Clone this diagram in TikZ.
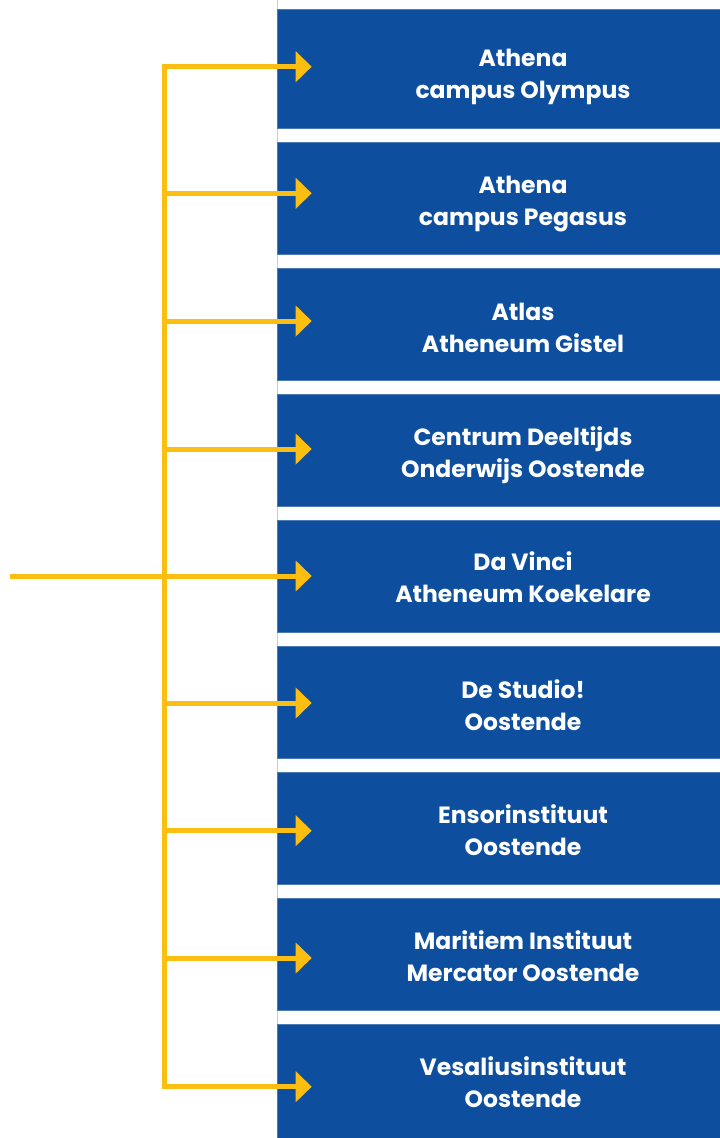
\documentclass[tikz,border=0pt]{standalone}
\usepackage{fontspec}
\setmainfont{Poppins}
\usetikzlibrary{arrows.meta,calc}
\definecolor{schoolblue}{RGB}{13,79,158}
\definecolor{feedyellow}{RGB}{253,190,18}
\definecolor{edgegray}{RGB}{196,208,226}
\tikzset{
  school/.style={fill=schoolblue, draw=schoolblue!75!white, line width=0.6pt,
    minimum width=492pt, minimum height=112pt, inner sep=0pt},
  schooltext/.style={text=white, align=center, inner sep=0pt,
    font=\fontsize{23.5}{32}\selectfont\bfseries},
  feed/.style={draw=feedyellow, line width=5pt, -{Triangle[length=16pt,width=30pt]}},
  trunk/.style={draw=feedyellow, line width=5pt}
}

\begin{document}
\begin{tikzpicture}[x=1pt,y=-1pt]
  \useasboundingbox (0,0) rectangle (720,1138);
  \clip (0,0) rectangle (720,1138);
  \draw[edgegray, line width=0.6pt] (277.3,0) -- (277.3,1138);

  % schools
  \node[school, minimum height=119pt] (b1) at (523,68.7) {};
  \node[school] (b2) at (523,198) {};
  \node[school] (b3) at (523,324) {};
  \node[school] (b4) at (523,450) {};
  \node[school] (b5) at (523,576) {};
  \node[school] (b6) at (523,702) {};
  \node[school] (b7) at (523,828) {};
  \node[school] (b8) at (523,954) {};
  \node[school, minimum height=120pt] (b9) at (523,1084) {};

  \node[schooltext] (t1) at (523,77) {Athena\\campus Olympus};
  \node[schooltext] (t2) at (523,204) {Athena\\campus Pegasus};
  \node[schooltext] (t3) at (523,328) {Atlas\\Atheneum Gistel};
  \node[schooltext] (t4) at (523,455) {Centrum Deeltijds\\Onderwijs Oostende};
  \node[schooltext] (t5) at (523,577) {Da Vinci\\Atheneum Koekelare};
  \node[schooltext] (t6) at (523,705) {De Studio!\\Oostende};
  \node[schooltext] (t7) at (523,830) {Ensorinstituut\\Oostende};
  \node[schooltext] (t8) at (523,956) {Maritiem Instituut\\Mercator Oostende};
  \node[schooltext] (t9) at (523,1082) {Vesaliusinstituut\\Oostende};

  % branch points on the trunk
  \coordinate (in) at (10,576);
  \coordinate (j1) at (164,66.7);
  \coordinate (j2) at (164,193.3);
  \coordinate (j3) at (164,321);
  \coordinate (j4) at (164,449);
  \coordinate (j5) at (164,576);
  \coordinate (j6) at (164,703);
  \coordinate (j7) at (164,830.7);
  \coordinate (j8) at (164,958);
  \coordinate (j9) at (164,1086.7);

  \draw[trunk, line cap=rect] (j1) -- (j9);
  \draw[trunk] (in) -- (j5);

  \draw[feed] (j1) -- ($(b1.west |- j1)+(35,0)$);
  \draw[feed] (j2) -- ($(b2.west |- j2)+(35,0)$);
  \draw[feed] (j3) -- ($(b3.west |- j3)+(35,0)$);
  \draw[feed] (j4) -- ($(b4.west |- j4)+(35,0)$);
  \draw[feed] (j5) -- ($(b5.west |- j5)+(35,0)$);
  \draw[feed] (j6) -- ($(b6.west |- j6)+(35,0)$);
  \draw[feed] (j7) -- ($(b7.west |- j7)+(35,0)$);
  \draw[feed] (j8) -- ($(b8.west |- j8)+(35,0)$);
  \draw[feed] (j9) -- ($(b9.west |- j9)+(35,0)$);
\end{tikzpicture}
\end{document}
